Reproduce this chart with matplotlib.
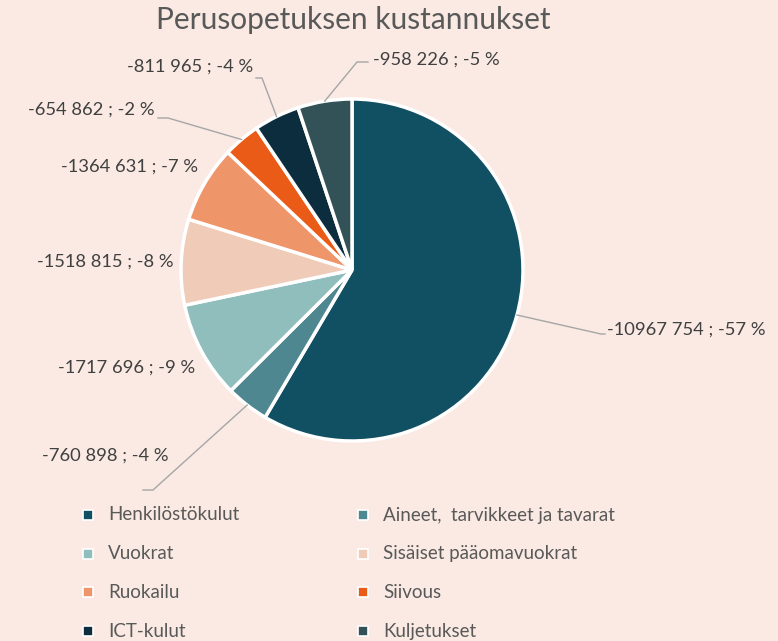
import numpy as np
import matplotlib.pyplot as plt

# Kustannuserät ja arvot (euroa)
kategoriat = ['Henkilöstökulut', 'Aineet,  tarvikkeet ja tavarat', 'Vuokrat',
              'Sisäiset pääomavuokrat', 'Ruokailu', 'Siivous', 'ICT-kulut', 'Kuljetukset']
arvot = [10967754, 760898, 1717696, 1518815, 1364631, 654862, 811965, 958226]
tunnisteet = ['-10967 754 ; -57 %', '-760 898 ; -4 %', '-1717 696 ; -9 %', '-1518 815 ; -8 %',
              '-1364 631 ; -7 %', '-654 862 ; -2 %', '-811 965 ; -4 %', '-958 226 ; -5 %']
varit = ['#114F63', '#4E8790', '#8FBEBD', '#F0CCB8', '#EE956A', '#EA5B17', '#0B2D3D', '#325258']

tausta = '#FAEAE3'
W, H = 778, 641
cx, cy, r = 352, 270, 171  # piirakan keskipiste ja säde pikseleinä

plt.rcParams['font.family'] = ['Lato', 'DejaVu Sans']

fig = plt.figure(figsize=(W / 100, H / 100), dpi=100, facecolor=tausta)

# piirakka
ax = fig.add_axes([(cx - r) / W, (H - cy - r) / H, 2 * r / W, 2 * r / H])
wedges, _ = ax.pie(arvot, colors=varit, startangle=90, counterclock=False,
                   wedgeprops=dict(edgecolor='white', linewidth=2.5))
ax.set_xlim(-1, 1)
ax.set_ylim(-1, 1)
ax.set_aspect('equal')

# päällyskerros pikselikoordinaateilla tekstejä ja viivoja varten
ov = fig.add_axes([0, 0, 1, 1], facecolor='none')
ov.set_xlim(0, W)
ov.set_ylim(H, 0)
ov.axis('off')

ov.text(353, 20, 'Perusopetuksen kustannukset', ha='center', va='center',
        fontsize=21.5, color='#595959')

# tunnisteiden paikat (x, y, tasaus) ja johtoviivojen taitepisteet
paikat = [(607, 330, 'left'), (105, 456, 'center'), (195, 368, 'right'), (174, 262, 'right'),
          (198, 167, 'right'), (155, 110, 'right'), (253, 67, 'right'), (373, 60, 'left')]
taitteet = {0: [(601, 334), (605, 334)],
            1: [(153, 490), (143, 490)],
            5: [(168, 118), (158, 118)],
            6: [(262, 78), (256, 78)],
            7: [(357, 62), (368, 62)]}

for i, w in enumerate(wedges):
    x, y, ha = paikat[i]
    ov.text(x, y, tunnisteet[i], ha=ha, va='center', fontsize=13.2, color='#404040')
    if i in taitteet:
        a = np.deg2rad((w.theta1 + w.theta2) / 2)
        pts = [(cx + r * np.cos(a), cy - r * np.sin(a))] + taitteet[i]
        ov.plot([p[0] for p in pts], [p[1] for p in pts], color='#A6A6A6', lw=1)

# selite kahdessa sarakkeessa
for i, nimi in enumerate(kategoriat):
    x0 = 88 if i % 2 == 0 else 363
    y0 = 515 + (i // 2) * 38.7
    ov.scatter([x0], [y0], marker='s', s=45, color=varit[i], edgecolors='white', linewidths=1.2)
    ov.text(x0 + 20, y0, nimi, ha='left', va='center', fontsize=13.5, color='#595959')

fig.savefig('out.png', dpi=100, facecolor=tausta)
